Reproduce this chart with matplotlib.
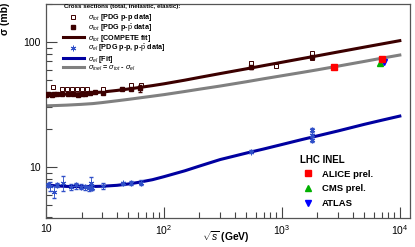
import matplotlib
matplotlib.use("Agg")
import matplotlib.pyplot as plt
from matplotlib.lines import Line2D
from matplotlib.ticker import FixedLocator, FixedFormatter, LogLocator, NullFormatter

plt.rcParams['font.family'] = ['Liberation Sans', 'DejaVu Sans']
plt.rcParams['mathtext.fontset'] = 'custom'
plt.rcParams['mathtext.rm'] = 'Liberation Sans'
plt.rcParams['mathtext.it'] = 'Liberation Sans:italic'
plt.rcParams['mathtext.bf'] = 'Liberation Sans:bold'

# fit curves (sqrt(s) in GeV, sigma in mb)
fit_e = [10, 12, 15, 20, 25, 30, 40, 50, 60, 80, 100, 150, 200, 300, 500, 700,
         1000, 1500, 2000, 3000, 5000, 7000, 10000]
tot_fit = [38.0, 38.0, 38.2, 38.6, 39.1, 39.7, 40.9, 42.0, 43.0, 44.7, 46.2, 49.4, 52.0,
           55.8, 60.9, 64.6, 68.7, 73.7, 77.4, 83.1, 90.8, 96.2, 102.3]
el_fit = [7.2, 7.05, 6.98, 6.95, 6.97, 7.0, 7.12, 7.3, 7.5, 7.9, 8.35, 9.3, 10.15,
          11.45, 12.9, 13.9, 15.1, 16.6, 17.7, 19.4, 21.9, 23.6, 25.5]
inel_fit = [30.8, 30.95, 31.2, 31.65, 32.1, 32.7, 33.8, 34.7, 35.5, 36.8, 37.85, 40.1,
            41.85, 44.35, 48.0, 50.7, 53.6, 57.1, 59.8, 64.0, 69.8, 74.0, 78.5]

# PDG p-p total (open squares)
pp_e = [11.5, 13.8, 15.2, 16.7, 18.4, 20.3, 22.1, 30.6, 52.9, 63.4, 546, 890, 1800, 1800]
pp_tot = [43.7, 41.9, 41.9, 41.9, 41.9, 41.9, 41.9, 41.9, 45.3, 45.3, 67.3, 64.5, 81.0, 74.0]
pp_err = [0.8, 0.4, 0.4, 0.4, 0.4, 0.4, 0.4, 0.4, 0.5, 0.5, 2.5, 1.5, 1.5, 1.5]

# PDG p-pbar total (filled squares)
ppb_e = [10.0, 10.5, 11.2, 11.8, 12.5, 13.8, 15.5, 17.0, 18.5, 20.0, 21.5, 23.5, 26.0,
         30.5, 44.0, 53.0, 62.5, 546, 1800]
ppb_tot = [37.5, 38.3, 37.8, 38.2, 38.0, 38.6, 38.1, 38.4, 37.9, 38.4, 38.6, 38.9, 39.4,
           39.2, 41.9, 41.9, 42.5, 62.5, 75.5]
ppb_err = [0.8, 0.8, 0.7, 0.6, 0.5, 0.5, 0.4, 0.4, 0.4, 0.4, 0.4, 0.4, 0.4, 0.5, 0.6,
           0.8, 2.5, 1.5, 1.5]

# PDG elastic (stars)
el_e = [10.3, 10.8, 11.7, 12.5, 13.9, 16.2, 17.8, 19.7, 21.3, 23.2, 23.9, 24.4, 30.6,
        44.9, 52.9, 63.4, 546, 1800, 1800, 1800]
el_sig = [7.2, 7.0, 6.35, 7.2, 7.4, 6.95, 7.1, 6.95, 6.85, 6.75, 7.4, 6.8, 7.0, 7.4,
          7.4, 7.5, 13.2, 19.7, 17.9, 16.3]
el_err = [0.3, 0.6, 0.7, 0.3, 1.0, 0.4, 0.4, 0.3, 0.3, 0.3, 0.9, 0.3, 0.4, 0.2, 0.3,
          0.3, 0.4, 0.6, 0.5, 0.5]

# LHC inelastic measurements
alice_e = [2760, 7000]
alice_sig = [62.8, 72.7]
alice_err = [2.5, 2.0]
cms_e = [6800]
cms_sig = [68.0]
cms_err = [5.0]
atlas_e = [7350]
atlas_sig = [69.4]
atlas_err = [1.5]

brown = '#3c0000'
gray = '#808080'
dblue = '#0000a0'
sblue = '#3050c8'

fig = plt.figure(figsize=(4.15, 2.47), dpi=100)
ax = fig.add_axes([46 / 415, 1 - 218 / 247, 364 / 415, 214 / 247])
ax.set_xscale('log')
ax.set_yscale('log')

ax.plot(fit_e, inel_fit, color=gray, lw=2.2, zorder=2)
ax.plot(fit_e, tot_fit, color=brown, lw=2.2, zorder=2)
ax.plot(fit_e, el_fit, color=dblue, lw=2.2, zorder=2)

ax.errorbar(pp_e, pp_tot, yerr=pp_err, fmt='s', ms=3.5, mfc='white', mec=brown,
            mew=0.7, ecolor=brown, elinewidth=0.7, capsize=1.2, zorder=3)
ax.errorbar(ppb_e, ppb_tot, yerr=ppb_err, fmt='s', ms=3.5, color=brown,
            elinewidth=0.7, capsize=1.2, zorder=4)
ax.errorbar(el_e, el_sig, yerr=el_err, fmt='none', ecolor=sblue,
            elinewidth=0.6, capsize=1.2, zorder=4)
ax.plot(el_e, el_sig, ls='none', marker=(6, 2, 0), ms=4, mec=sblue, mew=0.7, zorder=4)

ax.errorbar(cms_e, cms_sig, yerr=cms_err, fmt='^', ms=4.5, color='#00b000',
            elinewidth=1.2, capsize=0, zorder=5)
ax.errorbar(alice_e, alice_sig, yerr=alice_err, fmt='s', ms=4.5, color='#ff0000',
            elinewidth=1.2, capsize=0, zorder=6)
ax.errorbar(atlas_e, atlas_sig, yerr=atlas_err, fmt='v', ms=4.5, color='#0000ff',
            elinewidth=1.2, capsize=0, zorder=5)

ax.set_xlim(10, 12200)
ax.set_ylim(3.9, 201)

ax.xaxis.set_major_locator(FixedLocator([10, 100, 1000, 10000]))
ax.xaxis.set_major_formatter(FixedFormatter(['10', r'$10^2$', r'$10^3$', r'$10^4$']))
ax.xaxis.set_minor_locator(LogLocator(base=10, subs=range(2, 10), numticks=20))
ax.xaxis.set_minor_formatter(NullFormatter())
ax.yaxis.set_major_locator(FixedLocator([10, 100]))
ax.yaxis.set_major_formatter(FixedFormatter(['10', '100']))
ax.yaxis.set_minor_locator(LogLocator(base=10, subs=range(2, 10), numticks=20))
ax.yaxis.set_minor_formatter(NullFormatter())

ax.tick_params(which='both', direction='in', top=False, right=False, colors='#444444',
               labelcolor='black', labelsize=7.5, width=0.8)
ax.tick_params(which='major', length=8, pad=4)
ax.tick_params(which='minor', length=4)
for s in ax.spines.values():
    s.set_color('#555555')
    s.set_linewidth(0.9)

fig.text(5 / 415, 1 - 3 / 247, 'σ (mb)', rotation=90, ha='center', va='top',
         fontsize=7.5, fontweight='bold')
fig.text(226 / 415, 1 - 237 / 247, r'$\sqrt{s}$ (GeV)', ha='center', va='center',
         fontsize=7.5, fontweight='bold')

h1 = [
    Line2D([], [], ls='none', marker='s', ms=3.5, mfc='white', mec=brown, mew=0.7),
    Line2D([], [], ls='none', marker='s', ms=3.5, color=brown),
    Line2D([], [], color=brown, lw=2.2),
    Line2D([], [], ls='none', marker=(6, 2, 0), ms=4, mec=sblue, mew=0.7),
    Line2D([], [], color=dblue, lw=2.2),
    Line2D([], [], color=gray, lw=2.2),
]
l1 = [
    r'$\sigma_{tot}$ [PDG p-p data]',
    r'$\sigma_{tot}$ [PDG p-$\bar{\mathrm{p}}$ data]',
    r'$\sigma_{tot}$ [COMPETE fit]',
    r'$\sigma_{el}$ [PDG p-p, p-$\bar{\mathrm{p}}$ data]',
    r'$\sigma_{el}$ [Fit]',
    r'$\sigma_{inel}$ = $\sigma_{tot}$ - $\sigma_{el}$',
]
ax.text(0.049, 0.986, 'Cross sections (total, inelastic, elastic):', transform=ax.transAxes,
        ha='left', va='center', fontsize=4.4, fontweight='bold')
leg1 = ax.legend(h1, l1, loc='upper left', bbox_to_anchor=(0.036, 0.978), frameon=False,
                 prop={'size': 5.2, 'weight': 'bold'}, handlelength=2.9,
                 handletextpad=0.6, labelspacing=-0.12, borderpad=0.0)
ax.add_artist(leg1)

h2 = [
    Line2D([], [], ls='none', marker='s', ms=4, color='#ff0000'),
    Line2D([], [], ls='none', marker='^', ms=4, color='#00b000'),
    Line2D([], [], ls='none', marker='v', ms=4, color='#0000ff'),
]
l2 = ['ALICE prel.', 'CMS prel.', 'ATLAS']
ax.text(0.698, 0.271, 'LHC INEL', transform=ax.transAxes, ha='left', va='center',
        fontsize=7, fontweight='bold')
ax.legend(h2, l2, loc='upper left', bbox_to_anchor=(0.69, 0.253), frameon=False,
          prop={'size': 6.8, 'weight': 'bold'}, handlelength=1.2, handletextpad=0.8,
          labelspacing=0.62, borderpad=0.1)

fig.savefig('out.png', dpi=100)
